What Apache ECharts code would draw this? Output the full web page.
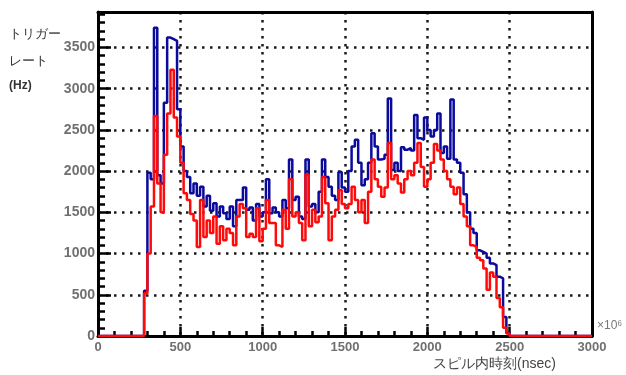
<!DOCTYPE html>
<html>
<head>
<meta charset="utf-8">
<script src="https://cdn.jsdelivr.net/npm/echarts@6/dist/echarts.min.js"></script>
<style>
  html, body { margin: 0; padding: 0; background: #fff; }
  #chart { width: 626px; height: 375px; }
</style>
</head>
<body>
<div id="chart"></div>
<script>
// histogram bins: start 280, width 20 (x unit: 10^6 nsec)
const binStart = 280
const binWidth = 20
const blueCounts = [
  550, 1980, 1900, 3740, 1950, 1850, 2830, 3620, 3600, 3580,
  2750, 2300, 2000, 1930, 1730, 1850, 1700, 1810, 1570, 1700,
  1520, 1610, 1450, 1570, 1490, 1420, 1570, 1330, 1650, 1650,
  1800, 1530, 1560, 1400, 1600, 1450, 1500, 1900, 1490, 1560,
  1500, 1450, 1650, 1550, 2140, 1650, 1690, 1450, 1420, 2140,
  1570, 1600, 1500, 1750, 2140, 1930, 1810, 1700, 1650, 1990,
  1800, 1750, 2000, 2300, 2380, 2100, 1830, 1900, 2100, 2460,
  2300, 2140, 2150, 2200, 2880, 2015, 2100, 2000, 2290, 2260,
  2280, 2250, 2680, 2400, 2380, 2650, 2500, 2420, 2500, 2700,
  2220, 2300, 2150, 2870, 2140, 2100, 1980, 1720, 1500, 1300,
  1250, 1040, 1020, 1000, 950, 880, 860, 720, 700, 230,
  40
]
const redCounts = [
  520, 1000, 1570, 2670, 1850, 1500, 2200, 2700, 3230, 2650,
  2420, 2100, 1730, 1650, 1480, 1400, 1080, 1650, 1200, 1400,
  1250, 1450, 1120, 1330, 1160, 1300, 1250, 1100, 1450, 1600,
  1550, 1200, 1240, 1200, 1550, 1150, 1300, 1650, 1370, 1370,
  1100, 1080, 1530, 1300, 1900, 1450, 1500, 1370, 1160, 1960,
  1330, 1530, 1380, 1450, 1930, 1610, 1160, 1450, 1530, 1770,
  1600, 1550, 1600, 1810, 1650, 1500, 1650, 1370, 1750, 2140,
  1900, 1810, 1690, 1800, 2340, 1900, 1950, 1850, 1740, 1900,
  2000, 1950, 2100, 2340, 2050, 1810, 1900, 2100, 2330, 2250,
  2140, 2000, 1900, 1810, 1720, 1800, 1600, 1450, 1330, 1100,
  1080, 950, 920, 820, 560, 770, 720, 460, 350, 100,
  30
]
const xTicks = [0, 500, 1000, 1500, 2000, 2500, 3000]
const yTicks = [0, 500, 1000, 1500, 2000, 2500, 3000, 3500]
const yMax = 3930

// turn bin counts into step points, zero outside the filled range
function toSteps(counts) {
  const pts = [[0, 0]]
  counts.forEach((v, i) => pts.push([binStart + i * binWidth, v]))
  pts.push([binStart + counts.length * binWidth, 0])
  pts.push([3000, 0])
  return pts
}

const chart = echarts.init(document.getElementById('chart'))

const labelStyle = {
  color: '#707070',
  fontSize: 13,
  fontWeight: 'bold',
  fontFamily: '"Liberation Sans", Arial, sans-serif',
  formatter: v => String(v)
}
const frameLine = { show: true, onZero: false, lineStyle: { color: '#000', width: 3 } }
const gridDots = { show: true, lineStyle: { color: '#1a1a1a', type: [2.5, 5.5], width: 2.5 } }
const xTick = { show: true, inside: true, length: 9, lineStyle: { color: '#000', width: 2.5 } }
const xMinor = { show: true, splitNumber: 5, length: 5, lineStyle: { color: '#000', width: 2.5 } }
const yTick = { show: true, inside: true, length: 13, lineStyle: { color: '#000', width: 2.5 } }
const yMinor = { show: true, splitNumber: 5, length: 7, lineStyle: { color: '#000', width: 2.5 } }
const hidden = { show: false }

chart.setOption({
  animation: false,
  grid: { left: 98, right: 34, top: 12, bottom: 39 },
  xAxis: [
    {
      type: 'value',
      min: xTicks[0],
      max: xTicks[xTicks.length - 1],
      interval: 500,
      axisLine: frameLine,
      axisTick: xTick,
      minorTick: xMinor,
      axisLabel: Object.assign({}, labelStyle, { margin: 5 }),
      splitLine: gridDots
    },
    {
      // top edge of the frame
      type: 'value', position: 'top', min: 0, max: 3000,
      axisLine: frameLine, axisTick: hidden, minorTick: hidden, axisLabel: hidden, splitLine: hidden
    },
    {
      // tick marks only, bottom
      type: 'value', position: 'bottom', min: 0, max: 3000, interval: 500,
      axisLine: { show: false, onZero: false }, axisTick: xTick, minorTick: xMinor, axisLabel: hidden, splitLine: hidden
    }
  ],
  yAxis: [
    {
      type: 'value',
      min: yTicks[0],
      max: yMax,
      interval: 500,
      axisLine: frameLine,
      axisTick: yTick,
      minorTick: yMinor,
      axisLabel: Object.assign({}, labelStyle, { fontSize: 14, margin: 3, showMaxLabel: false }),
      splitLine: gridDots
    },
    {
      // right edge of the frame
      type: 'value', position: 'right', min: 0, max: yMax,
      axisLine: frameLine, axisTick: hidden, minorTick: hidden, axisLabel: hidden, splitLine: hidden
    },
    {
      // tick marks only, left
      type: 'value', position: 'left', min: 0, max: yMax, interval: 500,
      axisLine: { show: false, onZero: false }, axisTick: yTick, minorTick: yMinor, axisLabel: hidden, splitLine: hidden
    }
  ],
  graphic: [
    { type: 'text', left: 9, top: 28, style: { text: 'トリガー', fontSize: 13, fill: '#333' } },
    { type: 'text', left: 9, top: 55, style: { text: 'レート', fontSize: 13, fill: '#333' } },
    { type: 'text', left: 9, top: 80, style: { text: '(Hz)', fontSize: 12, fontWeight: 'bold', fill: '#333' } },
    { type: 'text', left: 433, top: 357, style: { text: 'スピル内時刻(nsec)', fontSize: 14, fill: '#444' } },
    { type: 'text', left: 597, top: 320, style: { text: '×10⁶', fontSize: 12, fill: '#777' } }
  ],
  series: [
    {
      name: 'blue',
      type: 'line',
      step: 'end',
      symbol: 'none',
      data: toSteps(blueCounts),
      lineStyle: { color: '#0a0a9c', width: 2.5 }
    },
    {
      name: 'red',
      type: 'line',
      step: 'end',
      symbol: 'none',
      data: toSteps(redCounts),
      lineStyle: { color: '#ff0a0a', width: 2.5 }
    }
  ]
})
</script>
</body>
</html>
